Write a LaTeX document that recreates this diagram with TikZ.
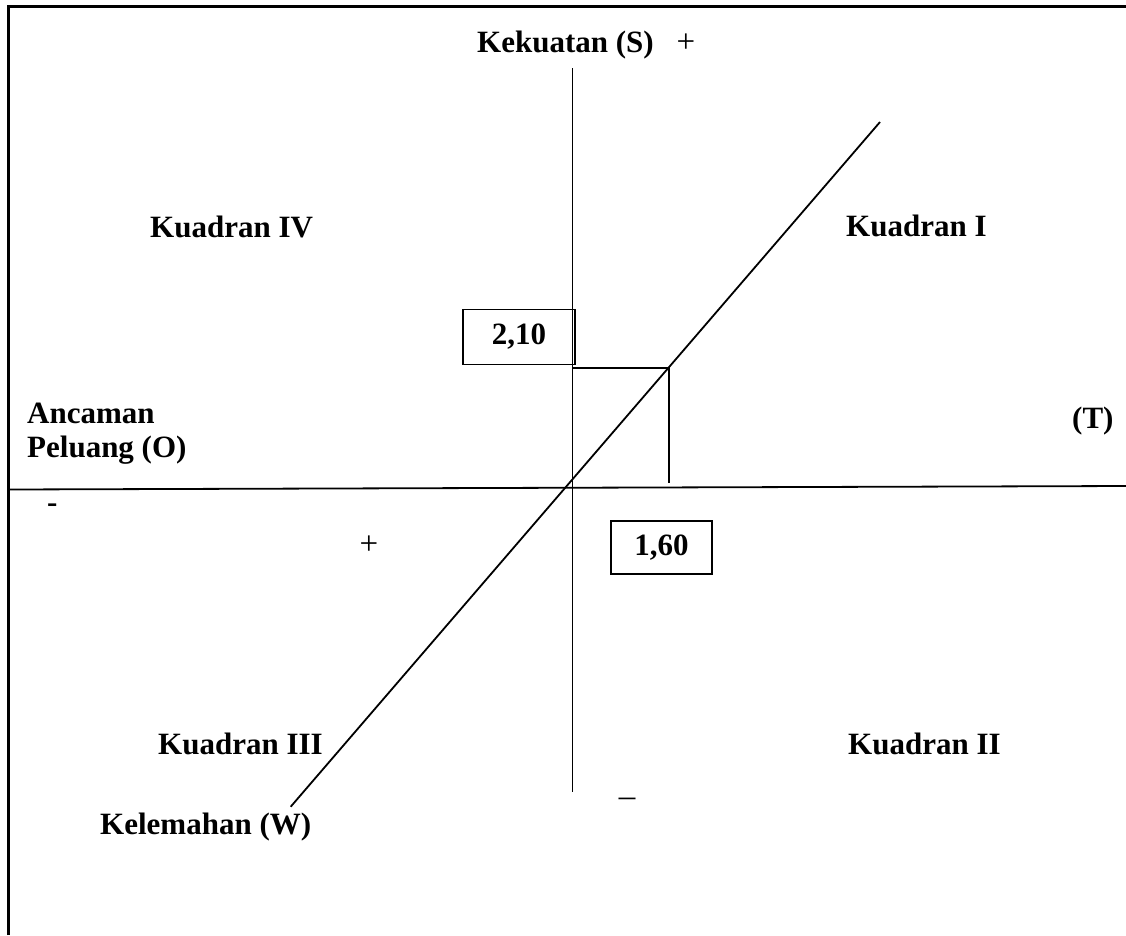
\documentclass[tikz,border=0pt]{standalone}
\usepackage{fontspec}
\setmainfont{Liberation Serif}
\begin{document}
\begin{tikzpicture}[x=1pt,y=-1pt,
  lbl/.style={font=\fontsize{31}{36}\selectfont\bfseries, inner sep=0pt, anchor=base west},
  sym/.style={font=\fontsize{33}{38}\selectfont, inner sep=0pt},
  axis/.style={line width=1.8pt},
  frameline/.style={line width=3pt},
  valbox/.style={draw, line width=1.8pt, minimum width=#1, minimum height=55pt, inner sep=0pt}
]
\useasboundingbox (0,0) rectangle (1126,935);
% frame (left and top)
\coordinate (fbl) at (8,935);
\coordinate (ftl) at (8,6);
\coordinate (ftr) at (1126,6);
\draw[frameline] (fbl) -- (ftl) -- (ftr);
% axes
\coordinate (hl) at (8,489.5);
\coordinate (hr) at (1126,486);
\coordinate (vt) at (572.5,68);
\coordinate (vb) at (572.5,792);
\draw[axis] (hl) -- (hr);
\draw[axis] (vt) -- (vb);
% diagonal
\coordinate (dl) at (290.7,806.7);
\coordinate (du) at (880,122);
\draw[axis] (dl) -- (du);
% guide lines
\coordinate (ga) at (573,368);
\coordinate (gb) at (669,368);
\coordinate (gc) at (669,483);
\draw[axis] (ga) -- (gb) -- (gc);
% value boxes
\node[valbox=112pt, font=\fontsize{31}{36}\selectfont\bfseries] (b210) at (519,337) {2,10};
\node[valbox=101pt, font=\fontsize{31}{36}\selectfont\bfseries, minimum height=53pt] (b160) at (661.5,547.5) {1,60};
% labels
\node[lbl] (s) at (477,52) {Kekuatan (S)};
\node[sym] (splus) at (686,43) {+};
\node[lbl] (k4) at (150,237) {Kuadran IV};
\node[lbl] (k1) at (846,236) {Kuadran I};
\node[lbl] (anc) at (27,423) {Ancaman};
\node[lbl] (pel) at (27,457) {Peluang (O)};
\node[lbl] (t) at (1072,428) {(T)};
\node[lbl] (minus) at (47,512) {-};
\node[sym] (plus) at (369,545) {+};
\node[lbl] (k3) at (158,754) {Kuadran III};
\node[lbl] (k2) at (848,754) {Kuadran II};
\node[sym, anchor=base] (dash) at (627,795) {\_};
\node[lbl] (w) at (100,834) {Kelemahan (W)};
\end{tikzpicture}
\end{document}
